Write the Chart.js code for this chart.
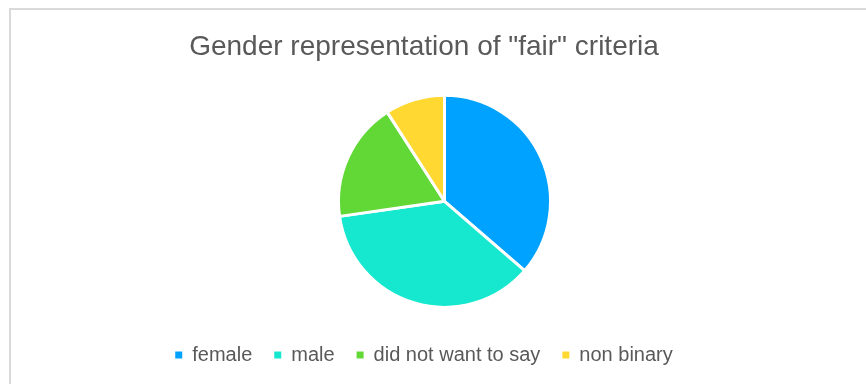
<!DOCTYPE html>
<html>
<head>
<meta charset="utf-8">
<script src="https://cdn.jsdelivr.net/npm/chart.js@4/dist/chart.umd.min.js"></script>
<style>
  html, body { margin: 0; padding: 0; background: #fff; }
  #wrap { position: relative; width: 866px; height: 384px; overflow: hidden; }
  #frame {
    position: absolute; left: 9px; top: 8px; width: 900px; height: 400px;
    border-top: 2px solid #d9d9d9; border-left: 2px solid #d9d9d9;
  }
  #genderChart { position: absolute; left: 0; top: 0; }
</style>
</head>
<body>
<div id="wrap">
  <div id="frame"></div>
  <canvas id="genderChart" width="866" height="384"></canvas>
</div>
<script>
// Responses per gender group
const labels = ['female', 'male', 'did not want to say', 'non binary'];
const counts = [4, 4, 2, 1];
const colors = ['#00A2FF', '#16E7CF', '#61D836', '#FFD932'];

const textColor = '#595959';
const fontFamily = '"Liberation Sans", Arial, sans-serif';

// Legend swatches without the white slice border
const baseLabels = Chart.overrides.pie.plugins.legend.labels.generateLabels;

// Empty box on the left so the pie sits a little right of the title/legend
const pieGutter = {
  id: 'pieGutter',
  beforeInit(chart) {
    Chart.layouts.addBox(chart, {
      position: 'left',
      fullSize: false,
      weight: 0,
      options: {},
      isHorizontal() { return false; },
      update() { this.width = 41; this.height = 0; },
      draw() {}
    });
  }
};

new Chart(document.getElementById('genderChart'), {
  type: 'pie',
  data: {
    labels: labels,
    datasets: [{
      data: counts,
      backgroundColor: colors,
      borderColor: '#ffffff',
      borderWidth: 3,
      radius: 106
    }]
  },
  plugins: [pieGutter],
  options: {
    responsive: false,
    animation: false,
    layout: { padding: { right: 18, bottom: 9 } },
    plugins: {
      title: {
        display: true,
        text: 'Gender representation of "fair" criteria',
        color: textColor,
        font: { family: fontFamily, size: 28, weight: 'normal' },
        padding: { top: 30, bottom: 16 }
      },
      legend: {
        position: 'bottom',
        labels: {
          color: textColor,
          font: { family: fontFamily, size: 20 },
          boxWidth: 7,
          boxHeight: 7,
          padding: 22,
          generateLabels: function(chart) {
            return baseLabels(chart).map(function(item) {
              item.lineWidth = 0;
              return item;
            });
          }
        }
      },
      tooltip: { enabled: false }
    }
  }
});
</script>
</body>
</html>
